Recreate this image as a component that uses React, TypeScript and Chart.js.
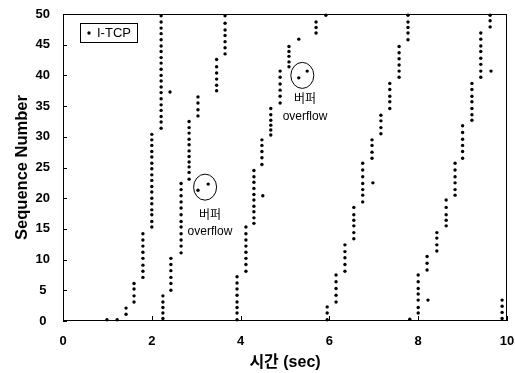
import React, { useEffect, useRef } from "react";
import { Chart, registerables } from "chart.js";

Chart.register(...registerables);

// Send times (sec) of each burst of segments and the sequence numbers sent in it
const burstTimes: number[] = [
  0.99, 1.22, 1.42, 1.6, 1.8, 2.0, 2.21, 2.25, 2.41, 2.43, 2.66, 2.84, 3.04, 3.27,
  3.46, 3.65, 3.92, 4.12, 4.3, 4.48, 4.5, 4.68, 4.89, 5.09, 5.31, 5.5, 5.7, 5.92,
  5.95, 6.15, 6.35, 6.55, 6.75, 6.96, 6.98, 7.16, 7.36, 7.57, 7.77, 7.81, 8.0,
  8.2, 8.22, 8.42, 8.63, 8.83, 9.0, 9.21, 9.41, 9.62, 9.64, 9.89,
];
const burstSeqs: number[][] = [
  [0.2],
  [0.2],
  [1.1, 2.1],
  [3.1, 4.1, 5.2, 6.1],
  [7.1, 8.1, 9.1, 10.2, 11.2, 12.2, 13.2, 14.2],
  [15.3, 16.2, 17.3, 18.1, 19.1, 20.0, 21.0, 21.9, 22.9, 23.8, 24.8, 25.7, 26.7, 27.6, 28.6, 29.5, 30.4],
  [31.4, 32.4, 33.3, 34.3, 35.2, 36.2, 37.2, 38.1, 39.1, 40.0, 41.0, 42.0, 42.9, 43.9, 44.8, 45.8, 46.8, 47.7, 48.7, 49.7],
  [0.4, 1.3, 2.2, 3.1, 4.1],
  [37.3],
  [5.0, 6.1, 7.1, 8.2, 9.2, 10.2],
  [11.1, 12.2, 13.2, 14.2, 15.3, 16.2, 17.3, 18.4, 19.4, 20.4, 21.4, 22.4],
  [23.1, 24.2, 25.1, 25.9, 26.8, 27.7, 28.7, 29.6, 30.6, 31.5, 32.5],
  [21.3, 33.4, 34.4, 35.5, 36.5],
  [22.3],
  [37.5, 38.4, 39.4, 40.4, 41.4, 42.6],
  [43.5, 44.5, 45.5, 46.5, 47.4, 48.5, 49.7],
  [0.2, 1.3, 2.2, 3.1, 4.2, 5.2, 6.2, 7.2],
  [8.1, 9.2, 10.2, 11.2, 12.2, 13.2, 14.2, 15.3],
  [15.9, 16.8, 17.8, 18.7, 19.7, 20.6, 21.6, 22.6, 23.5, 24.5],
  [25.5, 26.6, 27.6, 28.6, 29.5],
  [20.4],
  [30.3, 31.1, 31.9, 32.7, 33.6, 34.6],
  [35.5, 36.6, 37.6, 38.6, 39.7, 40.7],
  [41.4, 42.2, 43.1, 43.9, 44.7],
  [39.6, 45.9],
  [40.7],
  [46.9, 47.8, 48.7],
  [49.8],
  [0.2, 1.3, 2.3],
  [3.1, 4.2, 5.3, 6.4, 7.5],
  [8.1, 9.2, 10.3, 11.3, 12.4],
  [13.4, 14.4, 15.5, 16.4, 17.3, 18.5],
  [19.4, 20.5, 21.4, 22.4, 23.5, 24.6, 25.7],
  [26.5, 27.5, 28.6, 29.5],
  [22.5],
  [30.5, 31.5, 32.6, 33.5],
  [34.6, 35.7, 36.6, 37.7, 38.7],
  [39.7, 40.7, 41.7, 42.7, 43.7, 44.7],
  [45.8, 46.9, 47.8, 48.7, 49.8],
  [0.3],
  [1.3, 2.2, 3.4, 4.4, 5.3, 6.4, 7.5],
  [8.3, 9.4, 10.5],
  [3.4],
  [11.4, 12.4, 13.5, 14.4],
  [15.5, 16.4, 17.3, 18.5, 19.7],
  [20.5, 21.4, 22.5, 23.5, 24.6, 25.7],
  [26.5, 27.6, 28.6, 29.6, 30.7, 31.8],
  [32.7, 33.6, 34.6, 35.7, 36.6, 37.7, 38.7],
  [39.7, 40.7, 41.8, 42.8, 43.9, 44.8, 45.9, 46.9],
  [47.9, 48.9, 49.8],
  [40.7],
  [0.4, 1.4, 2.4, 3.4],
];

const seriesLabel = "I-TCP";
const xTitle = "시간 (sec)";
const yTitle = "Sequence Number";
const xTickValues = [0, 2, 4, 6, 8, 10];
const yTickValues = [0, 5, 10, 15, 20, 25, 30, 35, 40, 45, 50];
const noteLine1 = "버퍼";
const noteLine2 = "overflow";

// circled overflow events (data coordinates) and their captions
const overflowCircles = [
  { t: 3.2, s: 21.8 },
  { t: 5.39, s: 40.0 },
];
const overflowCaptions = [
  { t: 3.31, s1: 17.4, s2: 14.6 },
  { t: 5.45, s1: 36.2, s2: 33.3 },
];

const LATIN = '"Liberation Sans", Arial, sans-serif';
const KOREAN = '"Liberation Sans", "Noto Sans CJK KR", sans-serif';

const zeroPadding = (s: any) => {
  s.paddingTop = 0;
  s.paddingBottom = 0;
  s.paddingLeft = 0;
  s.paddingRight = 0;
};

const decorPlugin = {
  id: "decor",
  afterDatasetsDraw(chart: any) {
    const { ctx, chartArea: a, scales } = chart;
    const x = scales.x;
    const y = scales.y;
    ctx.save();
    ctx.strokeStyle = "#000";
    ctx.lineWidth = 1;
    // frame
    ctx.strokeRect(Math.round(a.left) + 0.5, Math.round(a.top) + 0.5, Math.round(a.width) - 1, Math.round(a.height) - 1);
    // inward ticks
    ctx.beginPath();
    yTickValues.forEach((v) => {
      const py = Math.round(y.getPixelForValue(v)) + 0.5;
      ctx.moveTo(a.left, py);
      ctx.lineTo(a.left + 4, py);
    });
    xTickValues.forEach((v) => {
      const px = Math.round(x.getPixelForValue(v)) + 0.5;
      ctx.moveTo(px, a.bottom);
      ctx.lineTo(px, a.bottom - 5);
    });
    ctx.stroke();

    // circles
    overflowCircles.forEach((c) => {
      ctx.beginPath();
      ctx.ellipse(x.getPixelForValue(c.t), y.getPixelForValue(c.s), 11.5, 13, 0, 0, Math.PI * 2);
      ctx.stroke();
    });
    // captions
    ctx.fillStyle = "#000";
    ctx.textAlign = "center";
    ctx.textBaseline = "middle";
    overflowCaptions.forEach((c) => {
      const px = x.getPixelForValue(c.t);
      ctx.font = '12px "Noto Sans CJK KR", sans-serif';
      ctx.fillText(noteLine1, px, y.getPixelForValue(c.s1));
      ctx.font = "12px " + LATIN;
      ctx.fillText(noteLine2, px, y.getPixelForValue(c.s2));
    });

    // legend box
    const lx = Math.round(a.left) + 17;
    const ly = Math.round(a.top) + 9;
    ctx.strokeRect(lx + 0.5, ly + 0.5, 57, 19);
    ctx.beginPath();
    ctx.arc(lx + 9, ly + 10, 1.7, 0, Math.PI * 2);
    ctx.fill();
    ctx.textAlign = "left";
    ctx.font = "13px " + LATIN;
    ctx.fillText(chart.data.datasets[0].label, lx + 17, ly + 10.5);
    ctx.restore();
  },
};

export default function App() {
  const canvasRef = useRef<HTMLCanvasElement | null>(null);

  useEffect(() => {
    document.body.style.margin = "0";
    const canvas = canvasRef.current;
    if (!canvas) return;
    const points = burstTimes.flatMap((t, i) => burstSeqs[i].map((s) => ({ x: t, y: s })));
    const chart = new Chart(canvas, {
      type: "scatter",
      data: {
        datasets: [
          {
            label: seriesLabel,
            data: points,
            pointRadius: 1.7,
            pointBackgroundColor: "#000",
            pointBorderWidth: 0,
            pointHoverRadius: 1.7,
            clip: false as any,
          },
        ],
      },
      plugins: [decorPlugin],
      options: {
        animation: false,
        responsive: true,
        maintainAspectRatio: false,
        events: [],
        layout: { padding: { top: 14, right: 8, left: 0, bottom: 0 } },
        plugins: { legend: { display: false }, tooltip: { enabled: false } },
        scales: {
          x: {
            type: "linear",
            min: 0,
            max: 10,
            afterFit: (s: any) => {
              s.height = 52;
              zeroPadding(s);
            },
            afterBuildTicks: (s: any) => {
              s.ticks = xTickValues.map((v) => ({ value: v }));
            },
            grid: { display: false, drawTicks: false },
            border: { display: false },
            ticks: {
              padding: 13,
              color: "#000",
              font: { family: LATIN, size: 13, weight: "bold" },
              maxRotation: 0,
            },
            title: {
              display: true,
              text: xTitle,
              color: "#000",
              font: { family: KOREAN, size: 16, weight: "bold" },
              padding: { top: 0, bottom: 1 },
            },
          },
          y: {
            type: "linear",
            min: 0,
            max: 50,
            afterFit: (s: any) => {
              s.width = 63;
              zeroPadding(s);
            },
            afterBuildTicks: (s: any) => {
              s.ticks = yTickValues.map((v) => ({ value: v }));
            },
            grid: { display: false, drawTicks: false },
            border: { display: false },
            ticks: {
              padding: 13,
              crossAlign: "center",
              color: "#000",
              font: { family: LATIN, size: 13, weight: "bold" },
            },
            title: {
              display: true,
              text: yTitle,
              color: "#000",
              font: { family: LATIN, size: 16.5, weight: "bold" },
              padding: { top: 13, bottom: 0 },
            },
          },
        },
      } as any,
    });
    return () => chart.destroy();
  }, []);

  return (
    <div style={{ position: "relative", width: 515, height: 373 }}>
      <canvas ref={canvasRef} />
    </div>
  );
}
